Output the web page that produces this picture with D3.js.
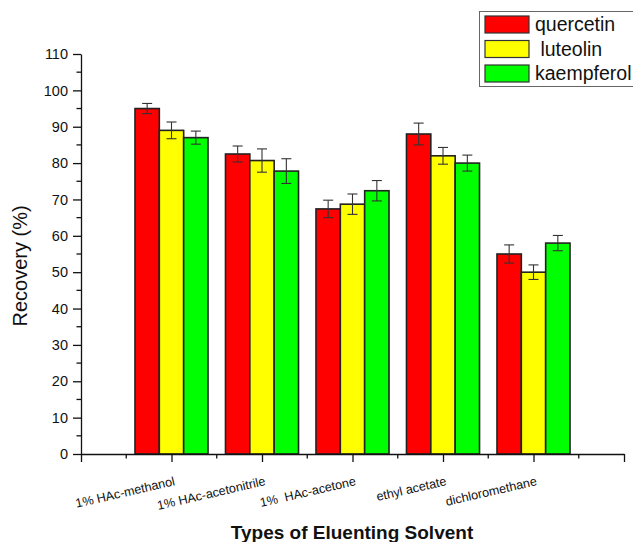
<!DOCTYPE html>
<html>
<head>
<meta charset="utf-8">
<script src="https://cdn.jsdelivr.net/npm/d3@7"></script>
<style>
  html, body { margin: 0; padding: 0; background: #fff; }
  svg { display: block; font-family: "Liberation Sans", Arial, sans-serif; }
</style>
</head>
<body>
<svg id="chart" width="633" height="542"></svg>
<script>
// Recovery of three flavonoids with different eluting solvents
const solvents = ["1% HAc-methanol", "1% HAc-acetonitrile", "1%  HAc-acetone", "ethyl acetate", "dichloromethane"];
const seriesNames = ["quercetin", " luteolin", "kaempferol"];
const seriesColors = ["#ff0000", "#ffff00", "#00ff00"];

const quercetin  = [95.0, 82.5, 67.4, 88.0, 55.0];
const luteolin   = [89.0, 80.7, 68.7, 82.0, 50.0];
const kaempferol = [87.0, 77.8, 72.4, 80.0, 58.0];

const quercetinErr  = [1.4, 2.2, 2.4, 3.0, 2.5];
const luteolinErr   = [2.3, 3.2, 2.8, 2.3, 2.0];
const kaempferolErr = [1.8, 3.4, 2.8, 2.2, 2.1];

const yTicks = [0, 10, 20, 30, 40, 50, 60, 70, 80, 90, 100, 110];

const values = [quercetin, luteolin, kaempferol];
const errors = [quercetinErr, luteolinErr, kaempferolErr];

const svg = d3.select("#chart");
const plotLeft = 81, plotRight = 624, plotTop = 54, plotBottom = 454;

const x = d3.scaleLinear().domain([0, 6]).range([plotLeft, plotRight]);
const y = d3.scaleLinear().domain([0, 110]).range([plotBottom, plotTop]);
const barW = (x(1) - x(0)) * 0.269;

// bars
values.forEach((vals, s) => {
  svg.append("g").selectAll("rect").data(vals).join("rect")
    .attr("x", (d, i) => x(i + 1) + (s - 1.5) * barW)
    .attr("y", d => y(d))
    .attr("width", barW)
    .attr("height", d => y(0) - y(d))
    .attr("fill", seriesColors[s])
    .attr("stroke", "#222")
    .attr("stroke-width", 1.6);
});

// error bars
values.forEach((vals, s) => {
  const g = svg.append("g").attr("stroke", "#333").attr("stroke-width", 1.1);
  vals.forEach((v, i) => {
    const cx = x(i + 1) + (s - 1) * barW;
    const e = errors[s][i];
    g.append("line").attr("x1", cx).attr("x2", cx).attr("y1", y(v + e)).attr("y2", y(v - e));
    g.append("line").attr("x1", cx - 5).attr("x2", cx + 5).attr("y1", y(v + e)).attr("y2", y(v + e));
    g.append("line").attr("x1", cx - 5).attr("x2", cx + 5).attr("y1", y(v - e)).attr("y2", y(v - e));
  });
});

// y axis
const yAxis = d3.axisLeft(y).tickValues(yTicks).tickSize(8).tickPadding(5).tickSizeOuter(0);
const yg = svg.append("g").attr("transform", `translate(${plotLeft},0)`).call(yAxis);
yg.selectAll("text").attr("font-size", 14.5).attr("fill", "#111").attr("font-family", "Liberation Sans, Arial, sans-serif");
yg.selectAll("line, path").attr("stroke", "#111").attr("stroke-width", 1.3);
const yMinor = d3.range(5, 110, 10);
svg.append("g").selectAll("line").data(yMinor).join("line")
  .attr("x1", plotLeft - 4.5).attr("x2", plotLeft).attr("y1", d => y(d)).attr("y2", d => y(d))
  .attr("stroke", "#111").attr("stroke-width", 1.3);

// x axis
const xAxis = d3.axisBottom(x).tickValues(d3.range(0, 7)).tickSize(8).tickFormat("").tickSizeOuter(0);
const xg = svg.append("g").attr("transform", `translate(0,${plotBottom})`).call(xAxis);
xg.selectAll("line, path").attr("stroke", "#111").attr("stroke-width", 1.3);
svg.append("g").selectAll("line").data(d3.range(0.5, 6, 1)).join("line")
  .attr("x1", d => x(d)).attr("x2", d => x(d)).attr("y1", plotBottom).attr("y2", plotBottom + 4.5)
  .attr("stroke", "#111").attr("stroke-width", 1.3);

// category labels
svg.append("g").selectAll("text").data(solvents).join("text")
  .attr("transform", (d, i) => `translate(${x(i + 1) + 4},${485}) rotate(-13)`)
  .attr("text-anchor", "end")
  .attr("font-size", 12.6)
  .attr("fill", "#111")
  .style("white-space", "pre")
  .text(d => d);

// axis titles
svg.append("text")
  .attr("transform", "translate(27,266) rotate(-90)")
  .attr("text-anchor", "middle")
  .attr("font-size", 20)
  .attr("fill", "#111")
  .text("Recovery (%)");

svg.append("text")
  .attr("x", 352).attr("y", 539)
  .attr("text-anchor", "middle")
  .attr("font-size", 19)
  .attr("font-weight", "bold")
  .attr("fill", "#111")
  .text("Types of Eluenting Solvent");

// legend
const lg = svg.append("g");
lg.append("rect").attr("x", 479.5).attr("y", 11.5).attr("width", 160).attr("height", 75)
  .attr("fill", "#fff").attr("stroke", "#666").attr("stroke-width", 1);
seriesNames.forEach((n, s) => {
  const ry = 16 + s * 24.5;
  lg.append("rect").attr("x", 485).attr("y", ry).attr("width", 44).attr("height", 17)
    .attr("fill", seriesColors[s]).attr("stroke", "#333").attr("stroke-width", 1.2);
  lg.append("text").attr("x", 535).attr("y", ry + 15)
    .attr("font-size", 19.5).attr("fill", "#111")
    .style("white-space", "pre")
    .text(n);
});
</script>
</body>
</html>
